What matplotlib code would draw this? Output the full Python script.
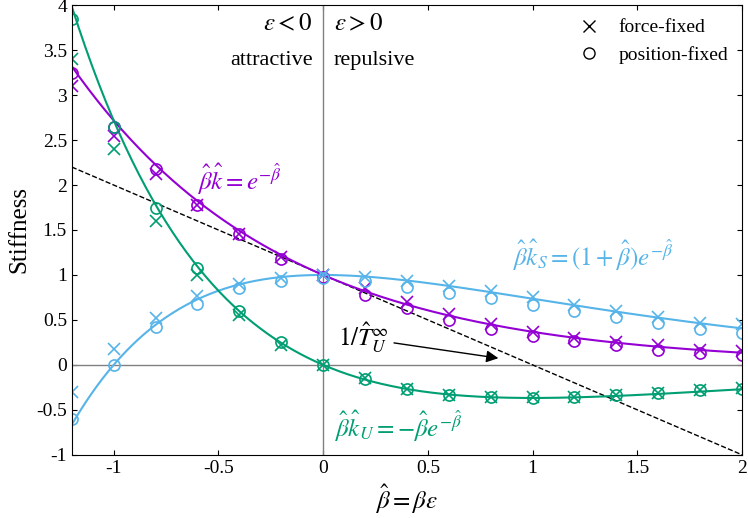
import numpy as np
import matplotlib
matplotlib.use("Agg")
import matplotlib.pyplot as plt

plt.rcParams["font.family"] = "Liberation Serif"
plt.rcParams["mathtext.fontset"] = "stix"

beta_pts = [-1.2,-1.0,-0.8,-0.6,-0.4,-0.2,0.0,0.2,0.4,0.6,0.8,1.0,1.2,1.4,1.6,1.8,2.0]
k_force = [3.1,2.55,2.12,1.78,1.45,1.2,1.0,0.85,0.7,0.57,0.45,0.37,0.3,0.25,0.22,0.17,0.15]
k_pos = [3.25,2.65,2.18,1.78,1.45,1.18,0.98,0.78,0.63,0.5,0.4,0.32,0.27,0.22,0.17,0.13,0.11]
kS_force = [-0.3,0.18,0.52,0.77,0.9,0.97,1.0,0.98,0.93,0.88,0.82,0.75,0.67,0.6,0.53,0.47,0.45]
kS_pos = [-0.6,0.0,0.42,0.68,0.85,0.93,0.97,0.93,0.87,0.8,0.74,0.67,0.6,0.53,0.47,0.4,0.35]
kU_force = [3.4,2.4,1.6,1.0,0.55,0.22,0.0,-0.15,-0.27,-0.33,-0.36,-0.36,-0.36,-0.34,-0.31,-0.28,-0.26]
kU_pos = [3.85,2.65,1.75,1.08,0.6,0.25,0.0,-0.16,-0.27,-0.33,-0.36,-0.37,-0.36,-0.34,-0.31,-0.28,-0.27]

PURPLE, BLUE, GREEN = "#9400D3", "#56B4E9", "#009E73"

fig = plt.figure(figsize=(7.48, 5.18), dpi=100)
ax = fig.add_axes([0.096, 0.122, 0.896, 0.868])
b = np.linspace(-1.2, 2, 400)
ax.axhline(0, color="gray", lw=1)
ax.axvline(0, color="gray", lw=1)
ax.plot(b, 1 - b, "k--", lw=1)
ax.plot(b, np.exp(-b), color=PURPLE, lw=1.5)
ax.plot(b, (1 + b) * np.exp(-b), color=BLUE, lw=1.5)
ax.plot(b, -b * np.exp(-b), color=GREEN, lw=1.5)
for yf, yp, c in [(k_force, k_pos, PURPLE), (kS_force, kS_pos, BLUE), (kU_force, kU_pos, GREEN)]:
    ax.plot(beta_pts, yf, "x", color=c, ms=8, mew=1.2, ls="none")
    ax.plot(beta_pts, yp, "o", mfc="none", color=c, ms=8, mew=1.2, ls="none")
ax.plot([], [], "kx", ms=8, label="force-fixed")
ax.plot([], [], "ko", mfc="none", ms=8, label="position-fixed")
ax.legend(loc="upper right", frameon=False, fontsize=14, handletextpad=0.5, borderaxespad=0.3)

ax.set_xlim(-1.2, 2)
ax.set_ylim(-1, 4)
ax.set_xticks([-1, -0.5, 0, 0.5, 1, 1.5, 2])
ax.set_xticklabels(["-1", "-0.5", "0", "0.5", "1", "1.5", "2"])
ax.set_yticks(np.arange(-1, 4.01, 0.5))
ax.set_yticklabels(["-1", "-0.5", "0", "0.5", "1", "1.5", "2", "2.5", "3", "3.5", "4"])
ax.tick_params(direction="in", labelsize=14, top=True, right=True)
ax.set_xlabel(r"$\hat{\beta} = \beta\epsilon$", fontsize=18)
ax.set_ylabel("Stiffness", fontsize=18)

ax.text(-0.05, 3.72, r"$\epsilon < 0$", fontsize=18, ha="right")
ax.text(-0.05, 3.33, "attractive", fontsize=16, ha="right")
ax.text(0.05, 3.72, r"$\epsilon > 0$", fontsize=18, ha="left")
ax.text(0.05, 3.33, "repulsive", fontsize=16, ha="left")
ax.text(-0.6, 1.95, r"$\hat{\beta}\hat{k} = e^{-\hat{\beta}}$", color=PURPLE, fontsize=18)
ax.text(0.9, 1.1, r"$\hat{\beta}\hat{k}_S = (1+\hat{\beta})e^{-\hat{\beta}}$", color=BLUE, fontsize=18)
ax.text(0.05, -0.8, r"$\hat{\beta}\hat{k}_U = -\hat{\beta}e^{-\hat{\beta}}$", color=GREEN, fontsize=18)
ax.annotate(r"$1/\hat{T}_U^{\infty}$", xy=(0.85, 0.07), xytext=(0.07, 0.2), fontsize=18,
            arrowprops=dict(arrowstyle="-|>", color="k", lw=1, shrinkA=2))
fig.savefig("out.png", dpi=100)
